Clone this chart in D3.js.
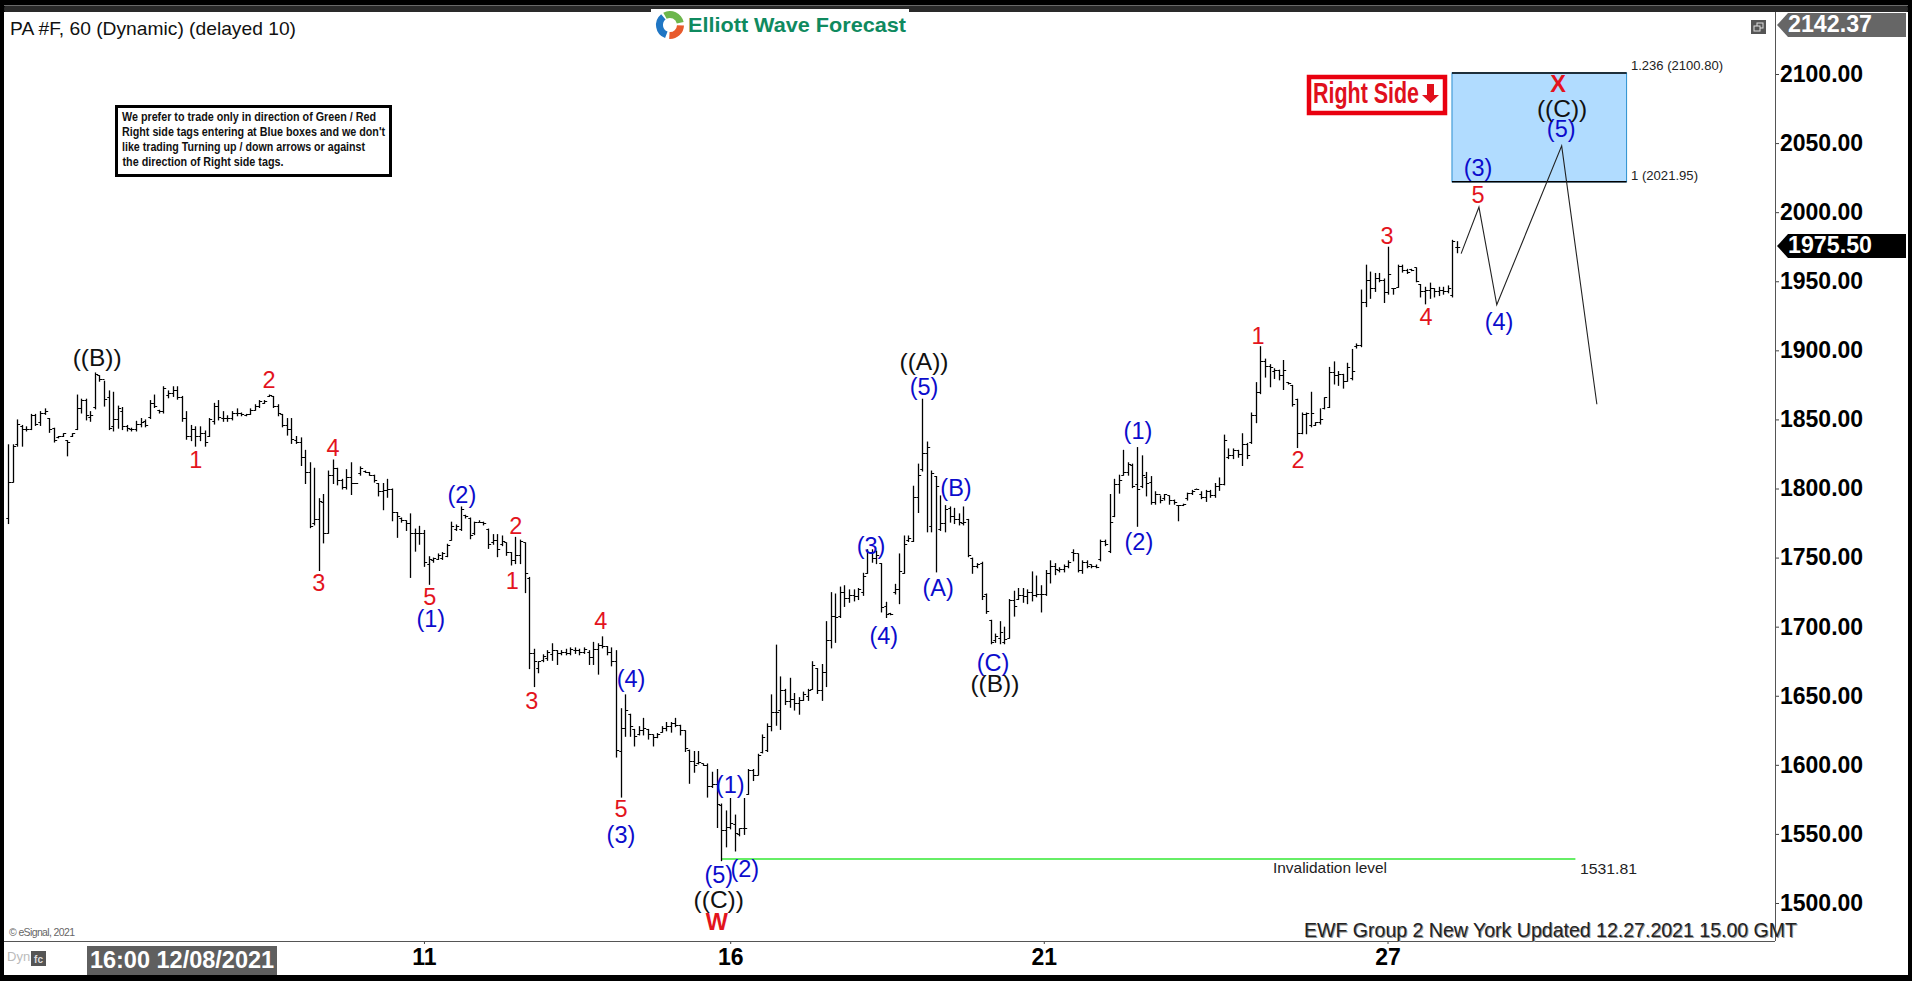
<!DOCTYPE html>
<html><head><meta charset="utf-8">
<script src="https://cdnjs.cloudflare.com/ajax/libs/d3/7.8.5/d3.min.js"></script>
<style>html,body{margin:0;padding:0;background:#000;overflow:hidden}svg{display:block}text{font-family:"Liberation Sans",Arial,sans-serif}</style>
</head><body><svg id="c" width="1912" height="981"></svg>
<script>
const highs=[1832,1832,1850,1846,1845,1854,1854,1856,1858,1851,
1844,1838,1840,1835,1840,1868,1865,1865,1856,1884,
1882,1878,1871,1870,1860,1859,1846,1844,1849,1851,
1850,1864,1868,1857,1874,1871,1874,1874,1867,1856,
1846,1845,1845,1842,1851,1862,1864,1856,1853,1856,
1858,1855,1854,1858,1861,1864,1864,1868,1867,1861,
1854,1851,1851,1838,1837,1828,1819,1815,1793,1796,
1813,1821,1815,1807,1814,1819,1804,1816,1813,1812,
1810,1804,1804,1807,1800,1783,1779,1777,1782,1771,
1773,1770,1751,1750,1753,1754,1760,1776,1774,1787,
1781,1779,1776,1777,1776,1771,1767,1767,1766,1761,
1754,1765,1763,1761,1736,1684,1675,1680,1683,1688,
1683,1683,1684,1685,1685,1684,1685,1683,1689,1688,
1693,1686,1685,1683,1641,1651,1637,1626,1628,1634,
1626,1622,1623,1628,1631,1631,1634,1629,1625,1611,
1610,1610,1601,1601,1595,1597,1572,1567,1576,1564,
1554,1576,1597,1597,1608,1622,1630,1651,1687,1664,
1655,1663,1652,1649,1653,1655,1675,1670,1673,1704,
1725,1724,1729,1730,1727,1727,1728,1739,1756,1756,
1755,1746,1718,1710,1731,1753,1766,1766,1802,1818,
1865,1834,1813,1809,1795,1788,1787,1786,1782,1787,
1778,1750,1746,1747,1724,1705,1695,1704,1700,1720,
1726,1728,1728,1727,1740,1737,1730,1741,1748,1746,
1743,1745,1748,1756,1753,1748,1748,1745,1745,1763,
1763,1796,1807,1810,1828,1819,1818,1830,1824,1812,
1809,1798,1795,1796,1795,1792,1788,1789,1797,1799,
1800,1798,1799,1799,1804,1808,1839,1829,1829,1828,
1840,1833,1855,1877,1903,1894,1890,1887,1886,1893,
1877,1875,1865,1855,1855,1870,1848,1858,1866,1888,
1892,1885,1883,1891,1901,1905,1944,1962,1957,1956,
1956,1952,1975,1945,1962,1962,1959,1959,1960,1948,
1946,1949,1945,1946,1946,1947,1980,1979];
const lows=[1775,1805,1831,1831,1842,1843,1846,1846,1854,1841,
1834,1837,1838,1824,1838,1843,1855,1850,1849,1858,
1878,1860,1843,1842,1844,1843,1842,1842,1842,1845,
1845,1851,1859,1855,1855,1866,1867,1865,1849,1836,
1835,1831,1835,1831,1838,1847,1850,1849,1849,1850,
1853,1853,1853,1854,1857,1859,1862,1867,1859,1853,
1845,1839,1833,1833,1817,1804,1772,1774,1741,1761,
1768,1804,1803,1800,1800,1796,1804,1810,1812,1810,
1805,1795,1785,1794,1777,1765,1776,1770,1736,1755,
1760,1744,1731,1747,1749,1749,1751,1763,1770,1770,
1779,1764,1767,1776,1774,1757,1760,1751,1759,1752,
1745,1746,1746,1725,1670,1657,1667,1675,1676,1676,
1673,1680,1680,1680,1681,1680,1681,1673,1673,1666,
1685,1680,1672,1606,1577,1621,1621,1614,1622,1622,
1619,1614,1620,1624,1625,1624,1628,1622,1610,1587,
1595,1601,1600,1577,1584,1555,1531,1541,1554,1538,
1549,1550,1579,1589,1593,1609,1610,1625,1629,1626,
1644,1642,1640,1637,1647,1647,1655,1652,1647,1657,
1685,1689,1707,1715,1718,1719,1720,1723,1739,1747,
1746,1711,1707,1709,1724,1717,1739,1762,1762,1783,
1813,1769,1769,1740,1770,1769,1776,1775,1774,1774,
1751,1739,1743,1720,1710,1688,1689,1688,1688,1692,
1708,1720,1718,1717,1719,1722,1711,1723,1732,1738,
1740,1740,1743,1748,1740,1739,1743,1743,1743,1748,
1759,1754,1780,1797,1810,1810,1801,1773,1801,1795,
1789,1789,1790,1792,1789,1789,1777,1788,1792,1796,
1800,1793,1791,1794,1794,1799,1803,1822,1822,1823,
1817,1822,1833,1848,1869,1881,1874,1880,1879,1872,
1876,1860,1830,1840,1840,1845,1846,1847,1858,1859,
1876,1875,1873,1878,1879,1902,1903,1932,1938,1943,
1950,1935,1941,1941,1946,1957,1956,1958,1950,1939,
1934,1938,1939,1940,1941,1942,1939,1971];
const opens=[1779,1805,1832,1845,1843,1843,1853,1848,1855,1851,
1844,1837,1838,1835,1838,1843,1858,1864,1852,1859,
1882,1879,1866,1845,1850,1856,1845,1843,1843,1847,
1849,1852,1862,1857,1856,1868,1869,1871,1866,1851,
1838,1843,1838,1840,1838,1849,1860,1851,1851,1851,
1855,1855,1853,1854,1857,1860,1862,1867,1867,1860,
1854,1846,1843,1835,1834,1823,1812,1775,1778,1790,
1768,1810,1815,1806,1801,1808,1804,1811,1813,1812,
1810,1804,1798,1799,1800,1783,1779,1777,1775,1768,
1768,1768,1745,1748,1749,1750,1751,1763,1771,1771,
1781,1779,1768,1776,1776,1771,1761,1763,1760,1761,
1754,1748,1752,1761,1735,1681,1670,1676,1677,1680,
1683,1681,1682,1681,1683,1683,1682,1682,1678,1684,
1687,1686,1682,1675,1610,1627,1637,1626,1622,1625,
1626,1622,1620,1624,1627,1628,1630,1629,1625,1611,
1603,1601,1601,1600,1585,1586,1571,1553,1555,1557,
1550,1554,1579,1596,1593,1609,1611,1628,1638,1640,
1654,1646,1648,1645,1647,1650,1655,1670,1654,1667,
1690,1708,1708,1725,1721,1723,1722,1725,1739,1754,
1750,1746,1715,1710,1725,1727,1739,1763,1762,1794,
1814,1826,1773,1809,1771,1775,1786,1780,1778,1775,
1778,1750,1744,1746,1724,1705,1690,1692,1689,1692,
1719,1720,1723,1722,1725,1723,1724,1724,1739,1744,
1741,1742,1744,1754,1753,1741,1747,1745,1744,1749,
1762,1755,1780,1803,1810,1812,1817,1803,1802,1808,
1805,1790,1796,1793,1795,1792,1788,1788,1793,1797,
1800,1796,1794,1798,1795,1802,1803,1823,1824,1828,
1825,1832,1834,1853,1870,1892,1889,1885,1886,1882,
1877,1875,1865,1840,1854,1846,1846,1848,1858,1859,
1884,1882,1883,1878,1880,1903,1904,1935,1951,1945,
1952,1951,1942,1945,1946,1961,1958,1959,1960,1948,
1943,1944,1945,1943,1944,1943,1940,1975];
const closes=[1805,1831,1847,1843,1843,1853,1847,1855,1856,1843,
1835,1838,1840,1834,1840,1858,1864,1853,1853,1883,
1879,1865,1844,1850,1858,1845,1844,1843,1847,1848,
1846,1862,1860,1856,1873,1869,1871,1866,1851,1838,
1843,1838,1840,1834,1850,1860,1852,1851,1851,1855,
1855,1854,1854,1857,1860,1863,1863,1868,1860,1855,
1846,1843,1836,1834,1823,1812,1773,1778,1791,1768,
1810,1815,1806,1801,1808,1804,1804,1815,1812,1810,
1806,1798,1799,1800,1783,1780,1777,1775,1768,1768,
1768,1747,1749,1750,1752,1753,1759,1773,1773,1785,
1780,1766,1776,1776,1775,1760,1763,1756,1762,1754,
1748,1752,1762,1739,1681,1675,1675,1679,1682,1683,
1681,1682,1681,1684,1683,1682,1684,1678,1684,1687,
1686,1682,1675,1611,1627,1640,1628,1621,1625,1627,
1622,1620,1622,1627,1628,1630,1629,1625,1612,1603,
1600,1602,1600,1585,1586,1572,1553,1555,1558,1551,
1554,1554,1596,1593,1607,1620,1628,1638,1638,1654,
1646,1648,1645,1647,1651,1654,1672,1654,1667,1690,
1708,1707,1725,1721,1723,1722,1727,1737,1754,1750,
1752,1714,1709,1709,1727,1740,1760,1764,1794,1810,
1826,1830,1811,1802,1775,1785,1780,1778,1776,1776,
1752,1744,1745,1722,1711,1689,1693,1696,1691,1719,
1715,1723,1722,1725,1723,1724,1724,1739,1744,1742,
1742,1744,1747,1753,1741,1747,1744,1744,1743,1762,
1760,1776,1803,1806,1812,1818,1802,1800,1810,1804,
1790,1796,1792,1796,1792,1790,1788,1789,1797,1798,
1800,1794,1798,1795,1802,1803,1835,1824,1828,1825,
1832,1824,1853,1870,1892,1889,1888,1886,1882,1886,
1876,1861,1840,1854,1855,1855,1848,1850,1866,1884,
1882,1883,1878,1888,1885,1904,1935,1951,1945,1952,
1951,1942,1955,1945,1961,1958,1957,1958,1950,1943,
1944,1945,1943,1944,1943,1945,1979,1975];

const priceTicks=[1500,1550,1600,1650,1700,1750,1800,1850,1900,1950,2000,2050,2100];
const dateTickIndex=[91,158,226.6,301.8];
const dateTickLabels=["11","16","21","27"];
const lastPrice=1975.50, topPrice=2142.37, invalidation=1531.81, fibLow=2021.95, fibHigh=2100.80;
const boxStart=315.9, boxEnd=354.1, invalidStart=156, invalidEnd=342.9;
const projIndex=[317.9,321.8,325.7,339.9,347.6];
const projPrice=[1970,2003.7,1933,2048,1861];
const RED="#e3141d", BLUE="#0c0ccc", BLK="#111";
const waveText=["((B))","1","2","3","4","5","(1)","(2)","2","1","3","4","(4)","5","(3)","(1)","(5)","(2)","((C))","W","(3)","(4)","(A)","((A))","(5)","(B)","(C)","((B))","(1)","(2)","1","2","3","4","5","(3)","(4)","(5)","((C))","X"];
const waveIndex=[19.5,41.1,57.1,68,71.1,92.3,92.5,99.3,111.1,110.3,114.6,129.7,136.3,134.1,134.1,158,155.5,161.2,155.5,155.1,188.8,191.6,203.5,200.4,200.4,207.4,215.5,215.9,247.2,247.4,273.5,282.2,301.7,310.2,321.6,321.6,326.2,339.8,340,339.1];
const wavePrice=[1895,1820.6,1878.5,1731.6,1829.3,1721.5,1705.6,1795.3,1772.9,1733.1,1646.2,1704.1,1662.1,1568,1549.2,1585.4,1520.3,1524.6,1502.2,1486.3,1758.4,1693.3,1728,1891.6,1873.5,1800.4,1673.7,1659.2,1841.6,1761.3,1910.4,1820.6,1982.8,1924.1,2012.4,2032,1920.5,2060.2,2074.7,2092.5];
const waveColor=[BLK,RED,RED,RED,RED,RED,BLUE,BLUE,RED,RED,RED,RED,BLUE,RED,BLUE,BLUE,BLUE,BLUE,BLK,RED,BLUE,BLUE,BLUE,BLK,BLUE,BLUE,BLUE,BLK,BLUE,BLUE,RED,RED,RED,RED,RED,BLUE,BLUE,BLUE,BLK,RED];
const noteLines=["We prefer to trade only in direction of Green / Red","Right side tags entering at Blue boxes and we don't","like trading Turning up / down arrows or against","the direction of Right side tags."];

const svg=d3.select("#c");
const x=d3.scaleLinear().domain([0,highs.length-1]).range([8,1457]);
const y=d3.scaleLinear().domain([1500,2100]).range([903,74]);
const AX=1775, BY=941;

// frame
svg.append("rect").attr("x",0).attr("y",0).attr("width",1912).attr("height",981).attr("fill","#000");
svg.append("rect").attr("x",4).attr("y",5).attr("width",1904).attr("height",8).attr("rx",4).attr("fill","#2a2a2a");
svg.append("rect").attr("x",4).attr("y",5).attr("width",1904).attr("height",1).attr("fill","#6a6a6a");
svg.append("rect").attr("x",4).attr("y",12).attr("width",1904).attr("height",963).attr("fill","#fff");

// blue box
svg.append("rect").attr("x",x(boxStart)).attr("y",y(fibHigh)).attr("width",x(boxEnd)-x(boxStart)).attr("height",y(fibLow)-y(fibHigh)).attr("fill","#b1dcff").attr("stroke","#2a8fd0").attr("stroke-width",1);
[fibHigh,fibLow].forEach(v=>svg.append("line").attr("x1",x(boxStart)).attr("x2",x(boxEnd)).attr("y1",y(v)).attr("y2",y(v)).attr("stroke","#000").attr("stroke-width",1.5));
const small=(t,px,py,w,s)=>svg.append("text").attr("x",px).attr("y",py).attr("dominant-baseline","middle").attr("font-size",s||13.5).attr("fill","#222").attr("textLength",w).attr("lengthAdjust","spacingAndGlyphs").text(t);
small("1.236 ("+fibHigh.toFixed(2)+")",1631,66,92);
small("1 ("+fibLow.toFixed(2)+")",1631,176,67);

// invalidation
svg.append("line").attr("x1",x(invalidStart)).attr("x2",x(invalidEnd)).attr("y1",y(invalidation)).attr("y2",y(invalidation)).attr("stroke","#66ee66").attr("stroke-width",2);
small("Invalidation level",1273,869,114,15);
small(invalidation.toFixed(2),1580,870,57,15);

// OHLC bars
const g=svg.append("g").attr("stroke","#000");
highs.forEach((h,i)=>{
  const px=Math.round(x(i))+.5;
  g.append("line").attr("x1",px).attr("x2",px).attr("y1",y(h)).attr("y2",y(lows[i])+1).attr("stroke-width",1.3);
  g.append("line").attr("x1",px-2.2).attr("x2",px).attr("y1",Math.round(y(opens[i]))+.5).attr("y2",Math.round(y(opens[i]))+.5).attr("stroke-width",1);
  g.append("line").attr("x1",px).attr("x2",px+2.7).attr("y1",Math.round(y(closes[i]))+.5).attr("y2",Math.round(y(closes[i]))+.5).attr("stroke-width",1);
});

// projection path
svg.append("path").attr("d",d3.line().x((d,i)=>x(projIndex[i])).y(d=>y(d))(projPrice)).attr("fill","none").attr("stroke","#222").attr("stroke-width",1.1);

// wave labels
svg.append("g").selectAll("text").data(waveText).join("text")
 .attr("x",(d,i)=>x(waveIndex[i])).attr("y",(d,i)=>y(wavePrice[i])).attr("text-anchor","middle").attr("dominant-baseline","central")
 .attr("font-size",d=>d.length>3?24.5:23.5).attr("font-weight",d=>d==="W"||d==="X"?"bold":"normal")
 .attr("fill",(d,i)=>waveColor[i]).text(d=>d);

// axes
const ay=svg.append("g").attr("transform",`translate(${AX},0)`).call(d3.axisRight(y).tickValues(priceTicks).tickSize(4).tickPadding(1).tickFormat(d=>d.toFixed(2)));
ay.select(".domain").remove();
ay.selectAll("text").attr("font-size",23).attr("font-weight","bold").attr("fill","#000").style("font-family",'"Liberation Sans"');
ay.selectAll("line").attr("stroke","#444");
const ax=svg.append("g").attr("transform",`translate(0,${BY})`).call(d3.axisBottom(x).tickValues(dateTickIndex).tickSize(3).tickPadding(5).tickFormat((d,i)=>dateTickLabels[i]));
ax.select(".domain").remove();
ax.selectAll("text").attr("font-size",23).attr("font-weight","bold").attr("fill","#000").style("font-family",'"Liberation Sans"');
ax.selectAll("line").attr("stroke","#444");
svg.append("line").attr("x1",AX+.5).attr("x2",AX+.5).attr("y1",12).attr("y2",BY).attr("stroke","#555");
svg.append("line").attr("x1",4).attr("x2",AX).attr("y1",BY+.5).attr("y2",BY+.5).attr("stroke","#555");

// price tags
function tag(v,cy,fill){
  svg.append("path").attr("d",`M1777 ${cy} L1788 ${cy-12} H1906 V${cy+12} H1788 Z`).attr("fill",fill);
  svg.append("text").attr("x",1788).attr("y",cy+1).attr("dominant-baseline","middle").attr("font-size",24).attr("font-weight","bold").attr("fill","#fff").attr("textLength",84).attr("lengthAdjust","spacingAndGlyphs").text(v.toFixed(2));
}
tag(topPrice,25,"#666");
tag(lastPrice,y(lastPrice),"#000");

// window icon
svg.append("rect").attr("x",1751).attr("y",20).attr("width",15).attr("height",14).attr("fill","#555");
svg.append("rect").attr("x",1757).attr("y",23).attr("width",6).attr("height",5).attr("fill","none").attr("stroke","#ddd");
svg.append("rect").attr("x",1754).attr("y",26).attr("width",6).attr("height",5).attr("fill","#555").attr("stroke","#ddd");

// title
svg.append("text").attr("x",10).attr("y",30).attr("dominant-baseline","middle").attr("font-size",19).attr("fill","#111").attr("textLength",286).attr("lengthAdjust","spacingAndGlyphs").text("PA #F, 60 (Dynamic) (delayed 10)");

// note
svg.append("rect").attr("x",116.5).attr("y",106.5).attr("width",274).attr("height",69).attr("fill","#fff").attr("stroke","#000").attr("stroke-width",3);
const noteW=[254,263,243,161];
noteLines.forEach((t,i)=>svg.append("text").attr("x",i==3?122.5:122).attr("y",117.5+i*15).attr("dominant-baseline","middle").attr("font-size",12.5).attr("font-weight","bold").attr("fill","#111").attr("textLength",noteW[i]).attr("lengthAdjust","spacingAndGlyphs").text(t));

// logo
svg.append("rect").attr("x",651).attr("y",9).attr("width",258).attr("height",8).attr("fill","#fff");
const lg=svg.append("g").attr("transform","translate(670,25)");
const arc=d3.arc();
[[-0.5,1.35,"#6cb64c"],[1.6,3.2,"#e85a2c"],[3.5,5.6,"#1f76c4"]].forEach(a=>lg.append("path").attr("d",arc({innerRadius:7,outerRadius:14,startAngle:a[0],endAngle:a[1]})).attr("fill",a[2]));
svg.append("text").attr("x",688).attr("y",26.5).attr("dominant-baseline","middle").attr("font-size",21).attr("font-weight","bold").attr("fill","#0f8a5f").attr("textLength",218).attr("lengthAdjust","spacingAndGlyphs").text("Elliott Wave Forecast");

// right side tag
svg.append("rect").attr("x",1309).attr("y",77).attr("width",136).attr("height",36).attr("fill","#fff").attr("stroke","#e9000f").attr("stroke-width",4.5);
svg.append("text").attr("x",1313).attr("y",95.5).attr("dominant-baseline","middle").attr("font-size",29).attr("font-weight","bold").attr("fill","#e0101c").attr("textLength",106).attr("lengthAdjust","spacingAndGlyphs").text("Right Side");
svg.append("path").attr("d","M1427 84 H1434 V95 H1439 L1430.5 103 L1422 95 H1427 Z").attr("fill","#e0101c");

// bottom bits
svg.append("rect").attr("x",87).attr("y",946).attr("width",190).attr("height",29).attr("fill","#5f5f5f");
svg.append("text").attr("x",182).attr("y",962).attr("text-anchor","middle").attr("dominant-baseline","middle").attr("font-size",23.5).attr("font-weight","bold").attr("fill","#fff").text("16:00 12/08/2021");
svg.append("text").attr("x",7).attr("y",958).attr("dominant-baseline","middle").attr("font-size",13).attr("fill","#bbb").text("Dyn");
svg.append("rect").attr("x",31).attr("y",951).attr("width",15).attr("height",15).attr("fill","#555");
svg.append("text").attr("x",38.5).attr("y",960).attr("text-anchor","middle").attr("dominant-baseline","middle").attr("font-size",10).attr("font-weight","bold").attr("fill","#ddd").text("fc");
svg.append("text").attr("x",9).attr("y",933).attr("dominant-baseline","middle").attr("font-size",10.5).attr("fill","#666").attr("textLength",66).text("© eSignal, 2021");
const ewf="EWF Group 2 New York Updated 12.27.2021 15.00 GMT";
svg.append("text").attr("x",1305).attr("y",932.5).attr("dominant-baseline","middle").attr("font-size",21).attr("fill","#999").attr("textLength",493).attr("lengthAdjust","spacingAndGlyphs").text(ewf);
svg.append("text").attr("x",1304).attr("y",931).attr("dominant-baseline","middle").attr("font-size",21).attr("fill","#222").attr("textLength",493).attr("lengthAdjust","spacingAndGlyphs").text(ewf);
</script></body></html>
